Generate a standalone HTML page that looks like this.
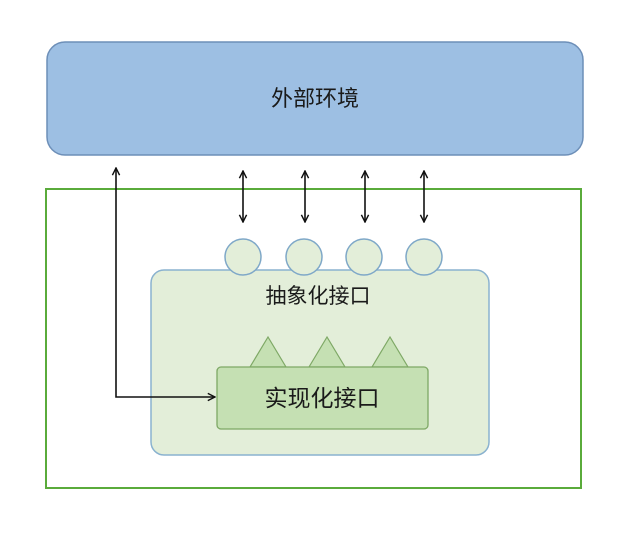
<!DOCTYPE html>
<html><head><meta charset="utf-8"><style>
html,body{margin:0;padding:0;background:#fff;width:638px;height:534px;overflow:hidden}
svg text{font-family:"Liberation Sans","Noto Sans CJK SC",sans-serif;fill:#1a1a1a}
</style></head><body>
<svg width="638" height="534" viewBox="0 0 638 534" xmlns="http://www.w3.org/2000/svg">
<defs>
<marker id="a" viewBox="0 0 10 10" refX="9" refY="5" markerWidth="9" markerHeight="9" orient="auto-start-reverse" markerUnits="userSpaceOnUse">
<path d="M1,1 L9,5 L1,9" fill="none" stroke="#111" stroke-width="1.6"/></marker>
</defs>
<rect x="47" y="42" width="536" height="113" rx="18" fill="#9dbfe3" stroke="#6d8fb8" stroke-width="1.5"/>
<text x="315" y="106" font-size="22" text-anchor="middle">外部环境</text>
<rect x="46" y="189" width="535" height="299" fill="#fff" stroke="#5aab3b" stroke-width="2"/>
<g stroke="#111" stroke-width="1.6" marker-start="url(#a)" marker-end="url(#a)">
<line x1="243" y1="171" x2="243" y2="222"/>
<line x1="305" y1="171" x2="305" y2="222"/>
<line x1="365" y1="171" x2="365" y2="222"/>
<line x1="424" y1="171" x2="424" y2="222"/>
</g>
<rect x="151" y="270" width="338" height="185" rx="13" fill="#e3eed9" stroke="#8ab2cf" stroke-width="1.5"/>
<g fill="#e3eed9" stroke="#7fa8c8" stroke-width="1.5">
<circle cx="243" cy="257" r="18"/><circle cx="304" cy="257" r="18"/><circle cx="364" cy="257" r="18"/><circle cx="424" cy="257" r="18"/>
</g>
<text x="318" y="303" font-size="21" text-anchor="middle">抽象化接口</text>
<g fill="#c5e0b3" stroke="#7ea865" stroke-width="1.2">
<polygon points="268,337 250,367 286,367"/><polygon points="327,337 309,367 345,367"/><polygon points="390,337 372,367 408,367"/>
</g>
<rect x="217" y="367" width="211" height="62" rx="4" fill="#c5e0b3" stroke="#7ea865" stroke-width="1.3"/>
<text x="322" y="406" font-size="23" text-anchor="middle">实现化接口</text>
<polyline points="116,168 116,397 215,397" fill="none" stroke="#111" stroke-width="1.6" marker-start="url(#a)" marker-end="url(#a)"/>
</svg>
</body></html>
